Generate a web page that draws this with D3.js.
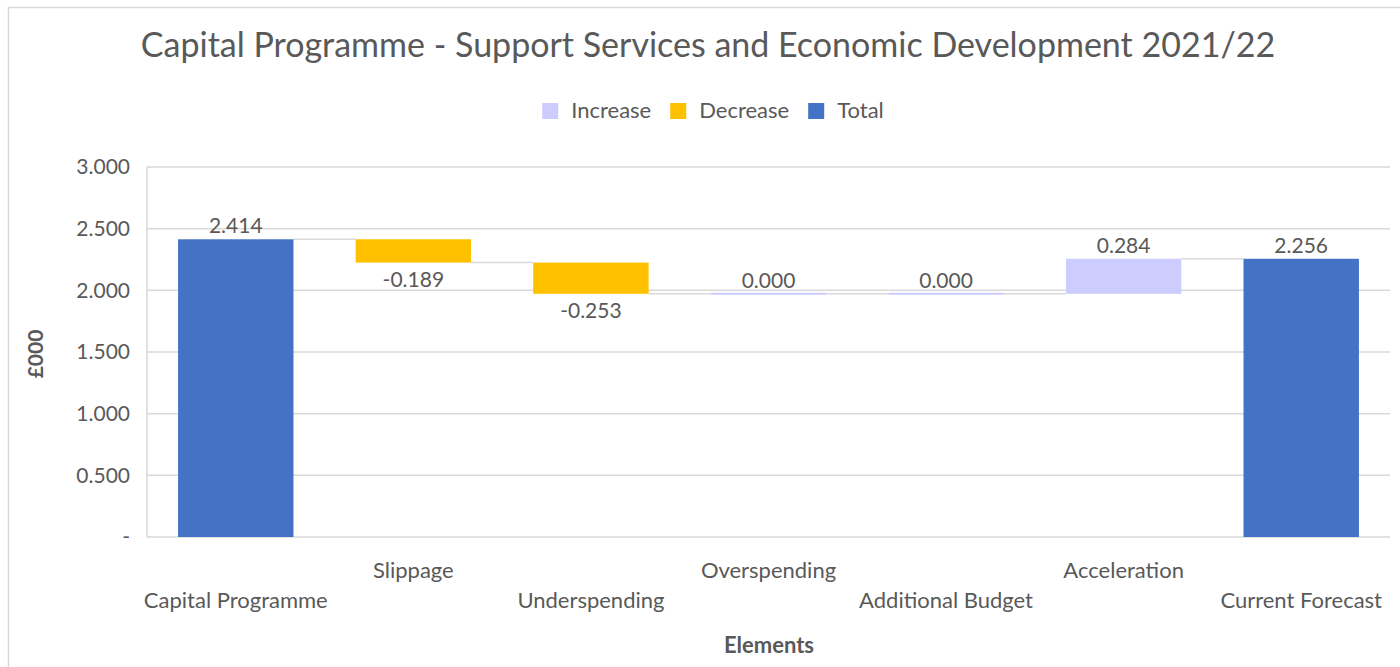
<!DOCTYPE html>
<html><head><meta charset="utf-8">
<script src="https://cdn.jsdelivr.net/npm/d3@7/dist/d3.min.js"></script>
<style>body{margin:0;background:#fff;} text{font-family:Lato,"Open Sans",sans-serif;fill:#595959;}</style>
</head><body><svg id="c" width="1400" height="667"></svg>
<script>
const title = "Capital Programme - Support Services and Economic Development 2021/22";
const categories = ["Capital Programme","Slippage","Underspending","Overspending","Additional Budget","Acceleration","Current Forecast"];
const values = [2.414, -0.189, -0.253, 0.000, 0.000, 0.284, 2.256];
const kinds = ["Total","Decrease","Decrease","Increase","Increase","Increase","Total"];
const legendItems = ["Increase","Decrease","Total"];
const yTicks = [0, 0.5, 1.0, 1.5, 2.0, 2.5, 3.0];
const yTitle = "£000", xTitle = "Elements";
const colors = {Increase:"#CCCCFF", Decrease:"#FFC000", Total:"#4472C4"};

const fmt = d3.formatLocale({decimal:".", thousands:",", grouping:[3], currency:["",""], minus:"-"}).format(".3f");

const svg = d3.select("#c");
// outer frame
svg.append("rect").attr("x",8.5).attr("y",7.5).attr("width",1500).attr("height",700)
  .attr("fill","none").attr("stroke","#d9d9d9").attr("stroke-width",1.5);

const L=147, R=1390, T=167, B=537;
const x = d3.scaleBand().domain(categories).range([L,R]).paddingInner(0.35).paddingOuter(0.175);
const y = d3.scaleLinear().domain([0,3]).range([B,T]);

// compute waterfall
let cum=0; const bars=[];
values.forEach((v,i)=>{
  let y0,y1;
  if(kinds[i]==="Total"){ y0=0; y1=v; cum=v; }
  else { y0=cum; y1=cum+v; cum=y1; }
  bars.push({cat:categories[i], v, kind:kinds[i], lo:Math.min(y0,y1), hi:Math.max(y0,y1), end:cum});
});

// gridlines
svg.append("g").selectAll("line").data(yTicks.filter(t=>t>0)).join("line")
  .attr("x1",L).attr("x2",R).attr("y1",d=>y(d)).attr("y2",d=>y(d))
  .attr("stroke","#d9d9d9").attr("stroke-width",1.5);
// axes lines
svg.append("line").attr("x1",L).attr("x2",L).attr("y1",T).attr("y2",B).attr("stroke","#d9d9d9").attr("stroke-width",1.5);
svg.append("line").attr("x1",L).attr("x2",R).attr("y1",B).attr("y2",B).attr("stroke","#d9d9d9").attr("stroke-width",1.5);

// y axis ticks
const yAxis = d3.axisLeft(y).tickValues(yTicks).tickSize(0).tickPadding(17)
  .tickFormat(d=> d===0 ? "-" : fmt(d));
const gy = svg.append("g").attr("transform",`translate(${L},0)`).call(yAxis);
gy.select(".domain").remove();
gy.selectAll("text").style("font-size","21px").attr("fill","#595959").style("font-family","Lato");

// connectors
const bw = x.bandwidth();
svg.append("g").selectAll("line").data(bars.slice(0,-1)).join("line")
  .attr("x1",(d)=>x(d.cat)+bw).attr("x2",(d,i)=>x(categories[i+1]))
  .attr("y1",d=>y(d.end)).attr("y2",d=>y(d.end))
  .attr("stroke","#d9d9d9").attr("stroke-width",1.5);

// bars
svg.append("g").selectAll("rect").data(bars).join("rect")
  .attr("x",d=>x(d.cat)).attr("width",bw)
  .attr("y",d=>y(d.hi)-(d.hi===d.lo?1:0))
  .attr("height",d=>Math.max(2, y(d.lo)-y(d.hi)))
  .attr("fill",d=>colors[d.kind]);

// data labels
svg.append("g").selectAll("text").data(bars).join("text")
  .attr("x",d=>x(d.cat)+bw/2)
  .attr("y",d=> d.v<0 ? y(d.lo)+24 : y(d.hi)-6)
  .attr("text-anchor","middle").style("font-size","21px")
  .text(d=>fmt(d.v));

// x category labels (staggered)
svg.append("g").selectAll("text").data(categories).join("text")
  .attr("x",d=>x(d)+bw/2).attr("y",(d,i)=> i%2===0 ? 608 : 578)
  .attr("text-anchor","middle").style("font-size","22px").text(d=>d);

// titles
svg.append("text").attr("x",708).attr("y",57).attr("text-anchor","middle")
  .style("font-size","34px").text(title);
svg.append("text").attr("x",769).attr("y",653).attr("text-anchor","middle")
  .style("font-size","22px").style("font-weight","bold").text(xTitle);
svg.append("text").attr("transform","translate(43,354) rotate(-90)").attr("text-anchor","middle")
  .style("font-size","21px").style("font-weight","bold").text(yTitle);

// legend
const lg = svg.append("g");
let lx = 0;
const items = lg.selectAll("g").data(legendItems).join("g");
items.append("rect").attr("width",16).attr("height",16).attr("y",-15).attr("fill",d=>colors[d]);
items.append("text").attr("x",29).style("font-size","22px").text(d=>d);
items.each(function(){
  const g=d3.select(this);
  g.attr("transform",`translate(${lx},0)`);
  lx += 29 + g.select("text").node().getComputedTextLength() + 19;
});
lx -= 19;
lg.attr("transform",`translate(${713 - lx/2},118)`);
</script></body></html>
